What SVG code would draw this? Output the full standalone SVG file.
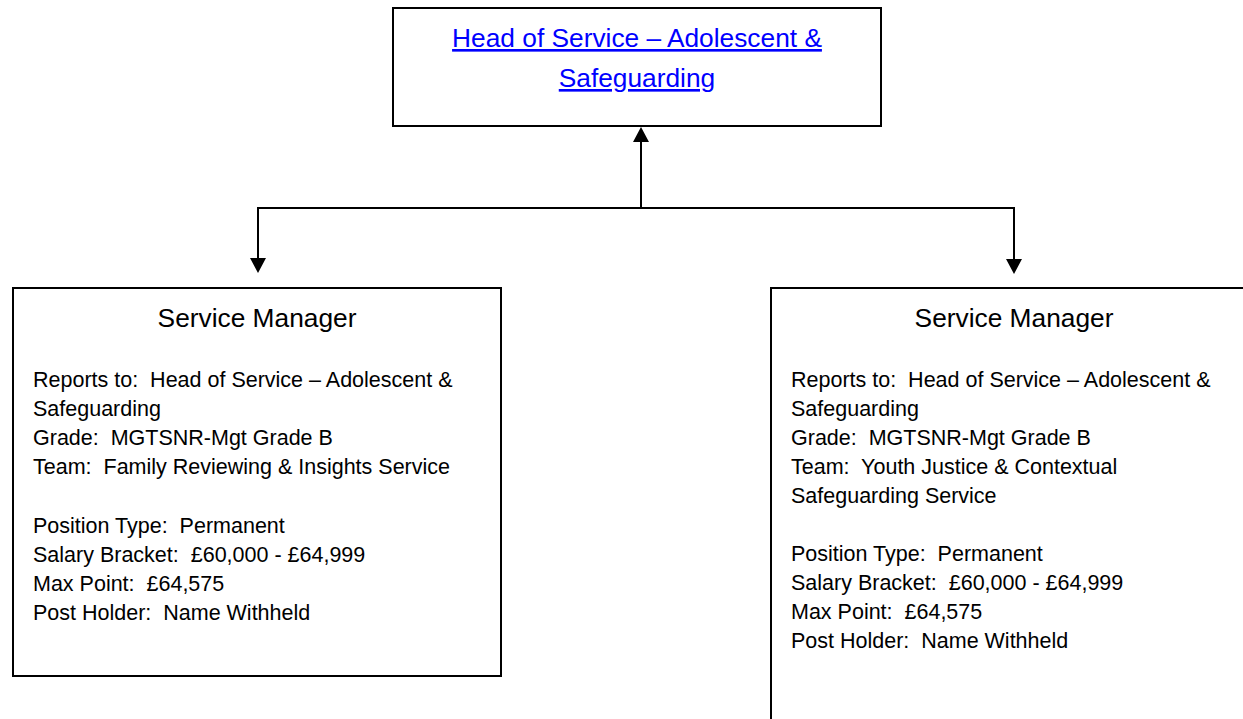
<svg xmlns="http://www.w3.org/2000/svg" width="1243" height="719" viewBox="0 0 1243 719" xml:space="preserve">
<style>
.box{fill:#fff;stroke:#000;stroke-width:2}
.ln{fill:none;stroke:#000;stroke-width:2}
.ah{fill:#000}
text{white-space:pre}
.title{font-family:"Liberation Sans",Arial,sans-serif;font-size:26.3px;fill:#000;text-anchor:middle}
.link{font-family:"Liberation Sans",Arial,sans-serif;font-size:26.3px;fill:#0000ff;text-anchor:middle;text-decoration:underline}
.body{font-family:"Liberation Sans",Arial,sans-serif;font-size:21.5px;fill:#000}
</style>
<rect width="1243" height="719" fill="#fff"/>
<g id="connectors">
<path class="ln" d="M641,208 V142"/>
<polygon class="ah" points="641,127 633,142 649,142"/>
<path class="ln" d="M641,208 H258 V259"/>
<polygon class="ah" points="258,273 250,258 266,258"/>
<path class="ln" d="M641,208 H1014 V260"/>
<polygon class="ah" points="1014,274 1006,259 1022,259"/>
</g>
<g id="head">
<rect class="box" x="393" y="8" width="488" height="118"/>
<text class="link" x="637" y="47">Head of Service – Adolescent &amp;</text>
<text class="link" x="637" y="87">Safeguarding</text>
</g>
<g id="sm-left">
<rect class="box" x="13" y="288" width="488" height="388"/>
<text class="title" x="257" y="327">Service Manager</text>
<text class="body" x="33" y="387">Reports to:  Head of Service – Adolescent &amp;</text>
<text class="body" x="33" y="416">Safeguarding</text>
<text class="body" x="33" y="445">Grade:  MGTSNR-Mgt Grade B</text>
<text class="body" x="33" y="474">Team:  Family Reviewing &amp; Insights Service</text>
<text class="body" x="33" y="533">Position Type:  Permanent</text>
<text class="body" x="33" y="562">Salary Bracket:  £60,000 - £64,999</text>
<text class="body" x="33" y="591">Max Point:  £64,575</text>
<text class="body" x="33" y="620">Post Holder:  Name Withheld</text>
</g>
<g id="sm-right">
<rect class="box" x="771" y="288" width="480" height="440"/>
<text class="title" x="1014" y="327">Service Manager</text>
<text class="body" x="791" y="387">Reports to:  Head of Service – Adolescent &amp;</text>
<text class="body" x="791" y="416">Safeguarding</text>
<text class="body" x="791" y="445">Grade:  MGTSNR-Mgt Grade B</text>
<text class="body" x="791" y="474">Team:  Youth Justice &amp; Contextual</text>
<text class="body" x="791" y="503">Safeguarding Service</text>
<text class="body" x="791" y="561">Position Type:  Permanent</text>
<text class="body" x="791" y="590">Salary Bracket:  £60,000 - £64,999</text>
<text class="body" x="791" y="619">Max Point:  £64,575</text>
<text class="body" x="791" y="648">Post Holder:  Name Withheld</text>
</g>
</svg>
